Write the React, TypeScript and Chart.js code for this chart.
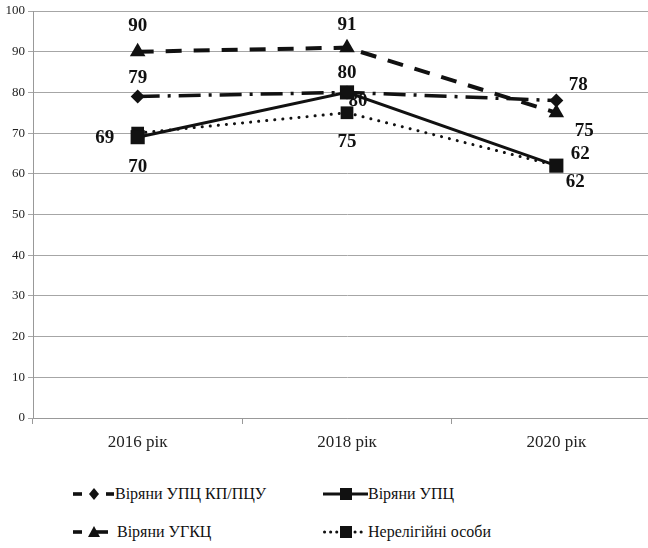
import React, { useEffect, useRef } from 'react';
import { Chart, registerables } from 'chart.js';

Chart.register(...registerables);

const categories = ['2016 рік', '2018 рік', '2020 рік'];
const seriesNames = ['Віряни УПЦ КП/ПЦУ', 'Віряни УПЦ', 'Віряни УГКЦ', 'Нерелігійні особи'];
const kpPtsuValues = [79, 80, 78];
const uptsValues = [69, 80, 62];
const ugktsValues = [90, 91, 75];
const nonReligiousValues = [70, 75, 62];
const yMin = 0;
const yMax = 100;
const yStep = 10;

const FONT = "'Liberation Serif'";
const INK = '#111';

// label offsets (dx, dy) relative to each point, per series
const labelOffsets = [
  [[0, -18], [11, 9], [22, -15]],
  [[-33, 1], [0, -19], [24, -12]],
  [[0, -26], [0, -23], [28, 18]],
  [[0, 34], [0, 29], [19, 16]],
];

const valueLabels = {
  id: 'valueLabels',
  beforeDatasetsDraw(chart: any) {
    const ctx = chart.ctx;
    ctx.save();
    ctx.font = `bold 19px ${FONT}`;
    ctx.fillStyle = INK;
    ctx.textAlign = 'center';
    ctx.textBaseline = 'middle';
    chart.data.datasets.forEach((ds: any, di: number) => {
      const meta = chart.getDatasetMeta(di);
      meta.data.forEach((pt: any, i: number) => {
        const off = labelOffsets[di][i];
        ctx.fillText(String(ds.data[i]), pt.x + off[0], pt.y + off[1]);
      });
    });
    ctx.restore();
  },
};

function Sym({ kind }: { kind: number }) {
  if (kind === 0) {
    return (
      <svg width="44" height="20">
        <rect x="0" y="8.2" width="9" height="3.6" fill={INK} />
        <polygon points="21,4 26,10 21,16 16,10" fill={INK} />
        <rect x="33" y="8.2" width="8" height="3.6" fill={INK} />
      </svg>
    );
  }
  if (kind === 1) {
    return (
      <svg width="46" height="20">
        <rect x="0" y="8.5" width="45" height="3" fill={INK} />
        <rect x="17" y="4" width="12" height="12" fill={INK} />
      </svg>
    );
  }
  if (kind === 2) {
    return (
      <svg width="44" height="20">
        <rect x="0" y="8.2" width="9" height="3.6" fill={INK} />
        <polygon points="21,4 27,15 15,15" fill={INK} />
        <rect x="21" y="8.2" width="14" height="3.6" fill={INK} />
      </svg>
    );
  }
  return (
    <svg width="46" height="20">
      <line x1="1.5" y1="10" x2="44" y2="10" stroke={INK} strokeWidth="3" strokeDasharray="0.1 6" strokeLinecap="round" />
      <rect x="17" y="4" width="12" height="12" fill={INK} />
    </svg>
  );
}

export default function App() {
  const ref = useRef<HTMLCanvasElement | null>(null);

  useEffect(() => {
    if (!ref.current) return;
    const common = {
      borderColor: INK,
      backgroundColor: INK,
      pointBackgroundColor: INK,
      pointBorderColor: INK,
      fill: false,
      tension: 0,
    };
    const chart = new Chart(ref.current, {
      type: 'line',
      data: {
        labels: categories,
        datasets: [
          {
            ...common,
            label: seriesNames[0],
            data: kpPtsuValues,
            borderWidth: 3.5,
            borderDash: [22, 8, 3, 8],
            pointStyle: 'rectRot',
            pointRadius: 7,
            pointBorderWidth: 0,
          },
          {
            ...common,
            label: seriesNames[1],
            data: uptsValues,
            borderWidth: 3,
            pointStyle: 'rect',
            pointRadius: 10,
            pointBorderWidth: 0,
          },
          {
            ...common,
            label: seriesNames[2],
            data: ugktsValues,
            borderWidth: 4,
            borderDash: [16, 12],
            pointStyle: 'triangle',
            pointRadius: 9,
            pointBorderWidth: 0,
          },
          {
            ...common,
            label: seriesNames[3],
            data: nonReligiousValues,
            borderWidth: 3,
            borderDash: [0.1, 8],
            borderCapStyle: 'round',
            pointStyle: 'rect',
            pointRadius: 9,
            pointBorderWidth: 0,
          },
        ],
      } as any,
      options: {
        animation: false,
        responsive: false,
        devicePixelRatio: 1,
        layout: { padding: { top: 11, right: 0, left: 0, bottom: 0 } },
        plugins: {
          legend: { display: false },
          tooltip: { enabled: false },
        },
        scales: {
          x: {
            offset: true,
            grid: {
              display: true,
              drawOnChartArea: false,
              drawTicks: true,
              tickLength: 6,
              color: '#999',
              offset: true,
            },
            border: { color: '#999', width: 1 },
            ticks: {
              color: '#222',
              font: { family: FONT, size: 17 },
              padding: 8,
            },
            afterFit: (s: any) => {
              s.height = 42;
            },
          },
          y: {
            min: yMin,
            max: yMax,
            grid: { color: '#a6a6a6', tickLength: 5, lineWidth: 1 },
            border: { color: '#999', width: 1 },
            ticks: {
              stepSize: yStep,
              color: '#222',
              font: { family: FONT, size: 13 },
              padding: 3,
            },
            afterFit: (s: any) => {
              s.width = 33;
            },
          },
        },
      } as any,
      plugins: [valueLabels],
    });
    return () => chart.destroy();
  }, []);

  const legendItems = [
    { kind: 0, sx: 73, tx: 115, y: 494 },
    { kind: 1, sx: 323, tx: 368, y: 494 },
    { kind: 2, sx: 73, tx: 117, y: 532 },
    { kind: 3, sx: 323, tx: 368, y: 532 },
  ];

  return (
    <div style={{ position: 'absolute', left: 0, top: 0, width: 648, height: 548, overflow: 'hidden', background: '#fff' }}>
      <canvas ref={ref} width={671} height={460} style={{ position: 'absolute', left: 0, top: 0, width: 671, height: 460 }} />
      {legendItems.map((it) => (
        <React.Fragment key={it.kind}>
          <div style={{ position: 'absolute', left: it.sx, top: it.y - 10, height: 20, lineHeight: 0 }}>
            <Sym kind={it.kind} />
          </div>
          <div
            style={{
              position: 'absolute',
              left: it.tx,
              top: it.y - 10,
              height: 20,
              lineHeight: '20px',
              fontFamily: FONT,
              fontSize: 16,
              color: INK,
              whiteSpace: 'nowrap',
            }}
          >
            {seriesNames[it.kind]}
          </div>
        </React.Fragment>
      ))}
    </div>
  );
}
